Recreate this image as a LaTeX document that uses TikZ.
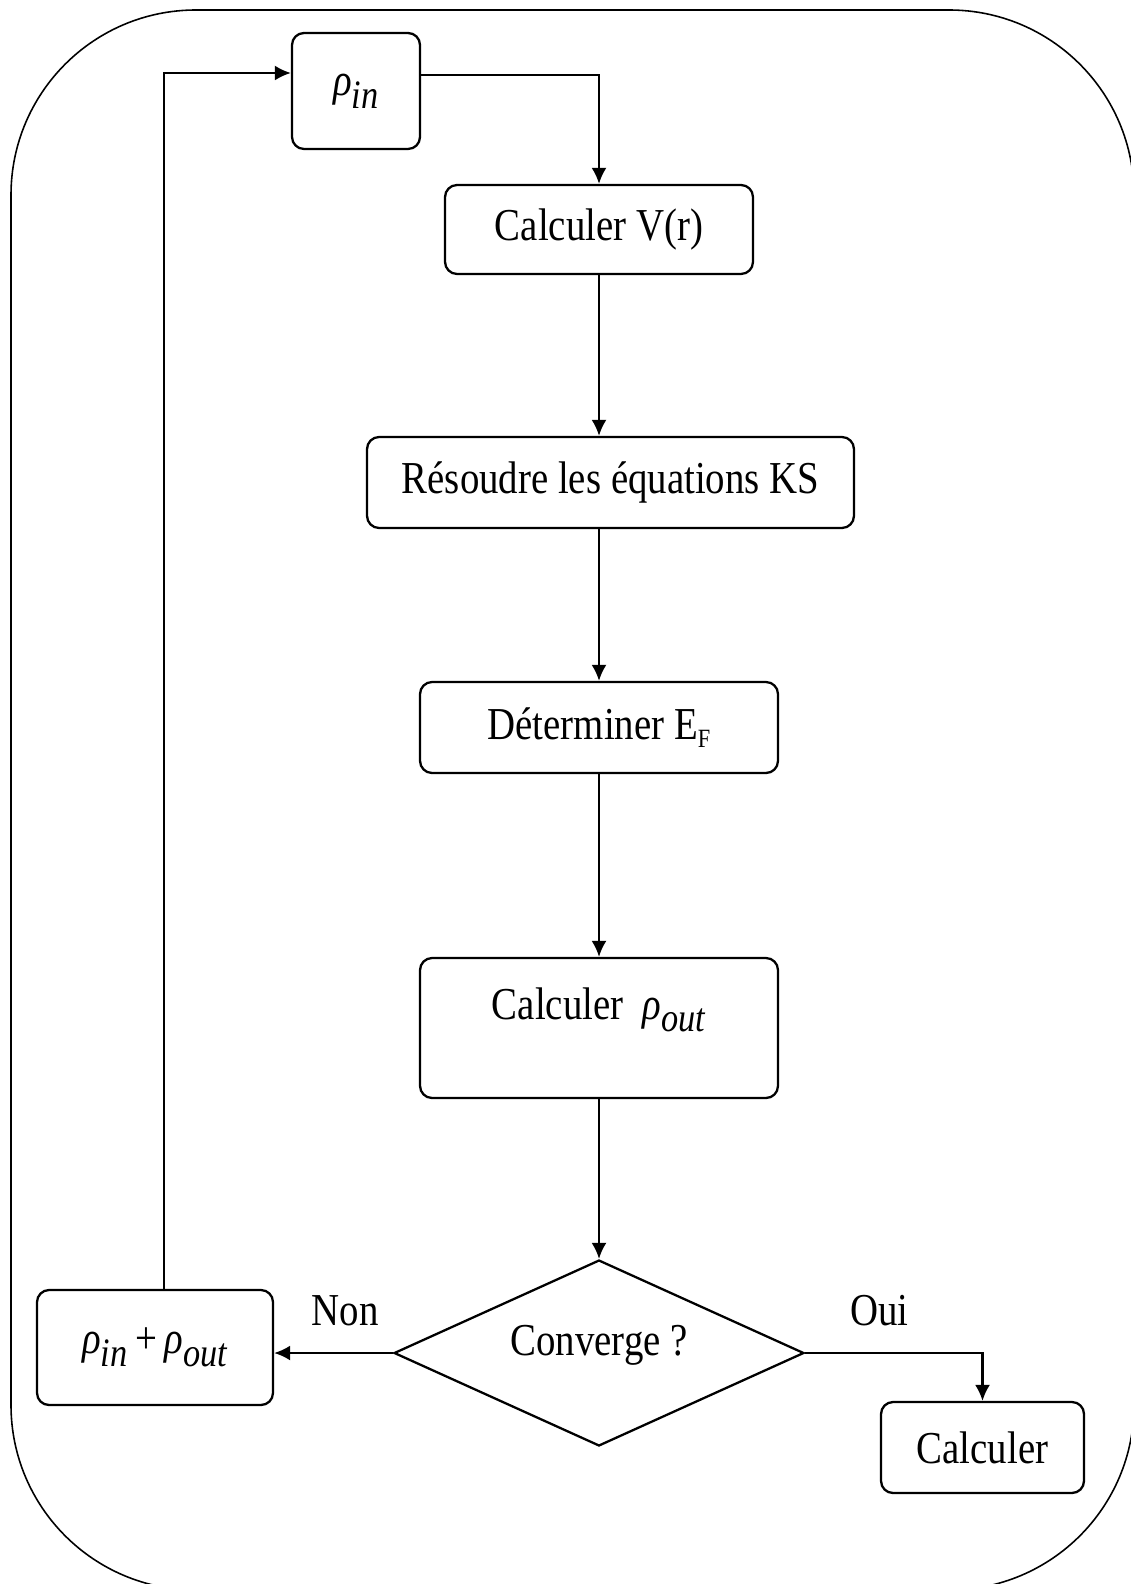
\documentclass[tikz,border=0pt]{standalone}
\usepackage{fontspec}
\setmainfont[FakeStretch=0.85]{Liberation Serif}
\usetikzlibrary{shapes.geometric,arrows.meta,positioning,calc}
\newcommand{\rhox}[1]{\textit{ρ}\raisebox{-0.6ex}{\fontsize{23}{23}\selectfont\textit{#1}}}
\newcommand{\bigtxt}{\fontsize{26}{30}\selectfont}

\begin{document}
\begin{tikzpicture}[x=0.02cm,y=-0.02cm,
	box/.style={rectangle,draw,rounded corners=0.24cm,line width=1.3pt,inner sep=0pt,font=\bigtxt},
	test/.style={diamond,draw,line width=1.3pt,inner sep=0pt,minimum width=8.2cm,minimum height=3.72cm},
	arr/.style={-{Latex[length=0.32cm,width=0.3cm]},line width=1.3pt},
	lbl/.style={font=\bigtxt,inner sep=0pt}]
\useasboundingbox (0,0) rectangle (1131,1584);
\draw[line width=0.9pt,rounded corners=3.7cm] (11,10) rectangle (1134,1590);

\node [box,minimum width=2.56cm,minimum height=2.32cm] (pin) at (356,91) {\rhox{in}};
\node [box,minimum width=6.16cm,minimum height=1.78cm] (vr) at (599,229.5) {Calculer V(r)};
\node [box,minimum width=9.74cm,minimum height=1.82cm] (ks) at (610.5,482.5) {Résoudre les équations KS};
\node [box,minimum width=7.16cm,minimum height=1.82cm] (ef) at (599,727.5) {Déterminer E\raisebox{-0.35ex}{\fontsize{15}{15}\selectfont F}};
\node [box,minimum width=7.16cm,minimum height=2.8cm,
	label={[lbl,yshift=0.36cm]center:Calculer \ \rhox{out}}] (pout) at (599,1028) {};
\node [test,label={[lbl,yshift=0.16cm]center:Converge ?}] (conv) at (599,1353) {};
\node [box,minimum width=4.72cm,minimum height=2.3cm] (sum) at (155,1347.5) {\rhox{in}\,+\,\rhox{out}};
\node [box,minimum width=4.06cm,minimum height=1.82cm] (fin) at (982.5,1447.5) {Calculer};

\draw[arr] ([yshift=0.32cm]pin.east) -| (vr.north);
\draw[arr] (vr.south) -- (vr.south |- ks.north);
\draw[arr] (ks.south -| ef.north) -- (ef.north);
\draw[arr] (ef.south) -- (pout.north);
\draw[arr] (pout.south) -- (conv.north);
\draw[arr] (conv.west) -- (conv.west -| sum.east) node[lbl,pos=0.4,above=0.52cm] (non) {Non};
\draw[arr] (conv.east) -| (fin.north) node[lbl,pos=0.21,above=0.52cm] (oui) {Oui};
\draw[arr] ([xshift=0.18cm]sum.north) |- ([yshift=0.36cm]pin.west);
\end{tikzpicture}
\end{document}
